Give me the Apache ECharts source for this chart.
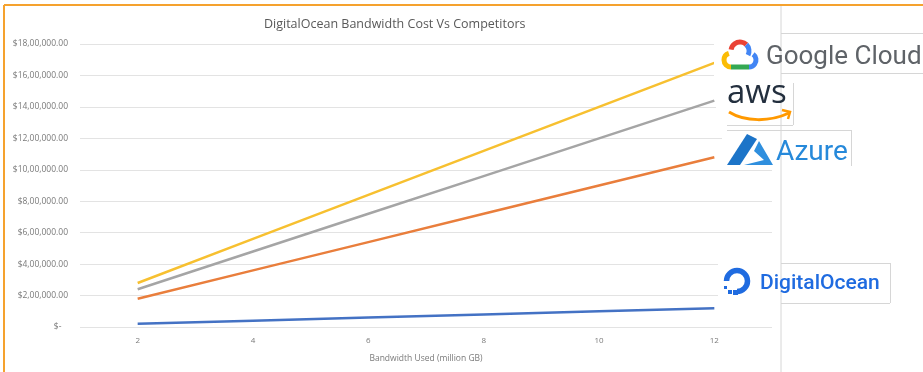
<!DOCTYPE html>
<html>
<head>
<meta charset="utf-8">
<script src="https://cdn.jsdelivr.net/npm/echarts@6/dist/echarts.min.js"></script>
<style>
  html, body { margin: 0; padding: 0; background: #fff; }
  #chart { width: 923px; height: 372px; }
</style>
</head>
<body>
<div id="chart"></div>
<script>
// bandwidth used, million GB
const bandwidth = ['2', '4', '6', '8', '10', '12']
// cost in $
const googleCost = [280000, 560000, 840000, 1120000, 1400000, 1680000]
const awsCost = [240000, 480000, 720000, 960000, 1200000, 1440000]
const azureCost = [180000, 360000, 540000, 720000, 900000, 1080000]
const doCost = [20000, 40000, 60000, 80000, 100000, 120000]

const yMax = 1800000
const yStep = 200000

// $18,00,000.00 style labels, zero shown as "$-"
function inr(v) {
  if (v === 0) return '$-   '
  const s = String(v)
  const last3 = s.slice(-3)
  let rest = s.slice(0, -3)
  rest = rest.replace(/\B(?=(\d{2})+(?!\d))/g, ',')
  return '$' + (rest ? rest + ',' + last3 : last3) + '.00'
}

const chart = echarts.init(document.getElementById('chart'))

function lineSeries(name, data, color) {
  return {
    name,
    data,
    type: 'line',
    symbol: 'none',
    lineStyle: { width: 2.5, color },
    itemStyle: { color },
    z: 3
  }
}

const line = (x1, y1, x2, y2, stroke, w) => ({
  type: 'line', z: 120,
  shape: { x1, y1, x2, y2 },
  style: { stroke, lineWidth: w || 1 }
})
const box = (x, y, width, height) => ({
  type: 'rect', z: 100,
  shape: { x, y, width, height },
  style: { fill: '#fff' }
})

const option = {
  animation: false,
  title: {
    text: 'DigitalOcean Bandwidth Cost Vs Competitors',
    left: 259,
    top: 13,
    textStyle: { fontFamily: 'Open Sans', fontSize: 12.5, fontWeight: 'normal', color: '#595959' }
  },
  grid: { left: 80, right: 151, top: 44, bottom: 45 },
  xAxis: {
    type: 'category',
    data: bandwidth,
    boundaryGap: true,
    name: 'Bandwidth Used (million GB)',
    nameLocation: 'middle',
    nameGap: 27,
    nameTextStyle: { fontFamily: 'Open Sans', fontSize: 8.5, color: '#7a7a7a' },
    axisLine: { show: false },
    axisTick: { show: false },
    axisLabel: { margin: 10, fontFamily: 'Open Sans', fontSize: 8, color: '#7a7a7a' }
  },
  yAxis: {
    type: 'value',
    min: 0,
    max: yMax,
    interval: yStep,
    axisLine: { show: false },
    axisTick: { show: false },
    axisLabel: { margin: 12, fontFamily: 'Open Sans', fontSize: 8.5, color: '#7a7a7a', formatter: inr },
    splitLine: { lineStyle: { color: '#e3e3e3', width: 1 } }
  },
  series: [
    lineSeries('Google Cloud', googleCost, '#F7C030'),
    lineSeries('AWS', awsCost, '#A5A5A5'),
    lineSeries('Azure', azureCost, '#E97E3C'),
    lineSeries('DigitalOcean', doCost, '#4472C4')
  ],
  graphic: [
    // frame
    line(4, 5, 923, 5, '#F5A22E', 2),
    line(4, 5, 4, 372, '#F5A22E', 2),
    line(781, 6, 781, 372, '#d6d6d6'),

    // logo backgrounds
    box(714, 34, 209, 45),
    box(716, 80, 77, 45),
    box(722, 130, 129, 36),
    box(718, 263, 172, 40),

    line(781, 33.5, 923, 33.5, '#d6d6d6'),
    line(781, 73.5, 923, 73.5, '#d6d6d6'),
    line(793.5, 83, 793.5, 125, '#d6d6d6'),
    line(727, 125.5, 793, 125.5, '#d6d6d6'),
    line(727, 130.5, 851, 130.5, '#d6d6d6'),
    line(851.5, 130, 851.5, 166, '#d6d6d6'),
    line(781, 263.5, 890, 263.5, '#d6d6d6'),
    line(890.5, 263, 890.5, 303, '#d6d6d6'),
    line(781, 303.5, 890, 303.5, '#d6d6d6'),

    // google cloud
    { type: 'arc', z: 130, shape: { cx: 740, cy: 51, r: 9, startAngle: Math.PI * 1.05, endAngle: Math.PI * 1.75, clockwise: true }, style: { stroke: '#EA4335', lineWidth: 5, fill: null } },
    { type: 'arc', z: 130, shape: { cx: 740, cy: 51, r: 9, startAngle: Math.PI * 1.75, endAngle: Math.PI * 2.15, clockwise: true }, style: { stroke: '#4285F4', lineWidth: 5, fill: null } },
    { type: 'arc', z: 130, shape: { cx: 749, cy: 60, r: 7, startAngle: -Math.PI * 0.3, endAngle: Math.PI * 0.5, clockwise: true }, style: { stroke: '#4285F4', lineWidth: 5, fill: null } },
    { type: 'arc', z: 130, shape: { cx: 731, cy: 60, r: 7, startAngle: Math.PI * 0.5, endAngle: Math.PI * 1.4, clockwise: true }, style: { stroke: '#FBBC05', lineWidth: 5, fill: null } },
    line(731, 67, 749, 67, '#34A853', 5),
    { type: 'text', z: 130, left: 766, top: 44, style: { text: 'Google Cloud', fontFamily: 'Roboto', fontSize: 26, fill: '#5f6368' } },

    // aws
    { type: 'text', z: 130, left: 727, top: 77, style: { text: 'aws', fontFamily: 'Open Sans', fontSize: 33, fontWeight: 'normal', fill: '#232F3E' } },
    { type: 'bezierCurve', z: 130, shape: { x1: 729, y1: 112, cpx1: 745, cpy1: 122, cpx2: 770, cpy2: 122, x2: 789, y2: 113 }, style: { stroke: '#FF9900', lineWidth: 3, fill: null } },
    { type: 'polyline', z: 130, shape: { points: [[782, 110], [790, 112], [788, 119]] }, style: { stroke: '#FF9900', lineWidth: 2.5, fill: null } },

    // azure
    { type: 'polygon', z: 130, shape: { points: [[727, 165], [747, 134], [757, 139], [740, 165]] }, style: { fill: '#1C74C8' } },
    { type: 'polygon', z: 130, shape: { points: [[759, 141], [773, 165], [744, 165], [764, 160], [754, 151]] }, style: { fill: '#2F8FDE' } },
    { type: 'text', z: 130, left: 776, top: 139, style: { text: 'Azure', fontFamily: 'Roboto', fontSize: 28, fill: '#2689DA' } },

    // digitalocean
    { type: 'arc', z: 130, shape: { cx: 737, cy: 281, r: 10.5, startAngle: Math.PI, endAngle: Math.PI * 2.5, clockwise: true }, style: { stroke: '#1F6BE0', lineWidth: 5.5, fill: null } },
    { type: 'rect', z: 130, shape: { x: 733, y: 290, width: 5, height: 5 }, style: { fill: '#1F6BE0' } },
    { type: 'rect', z: 130, shape: { x: 728, y: 290, width: 4, height: 4 }, style: { fill: '#1F6BE0' } },
    { type: 'rect', z: 130, shape: { x: 724, y: 286, width: 3, height: 3 }, style: { fill: '#1F6BE0' } },
    { type: 'text', z: 130, left: 760, top: 273, style: { text: 'DigitalOcean', fontFamily: 'Roboto', fontSize: 21, fontWeight: 500, fill: '#1F6BE0' } }
  ]
}

chart.setOption(option)
</script>
</body>
</html>
